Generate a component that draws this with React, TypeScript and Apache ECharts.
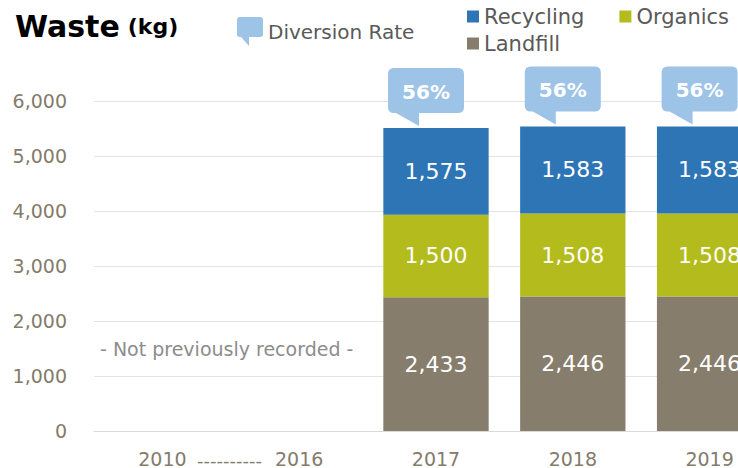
import React, { useEffect, useRef } from "react";
import * as echarts from "echarts";

const categories = ["2010", "2016", "2017", "2018", "2019"];
const landfill = [null, null, 2433, 2446, 2446];
const organics = [null, null, 1500, 1508, 1508];
const recycling = [null, null, 1575, 1583, 1583];
const diversionRate = [null, null, 56, 56, 56];
const yMin = 0;
const yMax = 6000;
const yInterval = 1000;

const FONT = "DejaVu Sans";
const C_RECYCLING = "#2e75b6";
const C_ORGANICS = "#b3bc1c";
const C_LANDFILL = "#877d6d";
const C_CALLOUT = "#9dc3e6";
const C_AXIS_TEXT = "#857b6b";
const C_LEGEND_TEXT = "#595959";

const calloutIcon =
  "path://M3,0 H23 Q26,0 26,3 V17 Q26,20 23,20 H12 V29 L4,20 H3 Q0,20 0,17 V3 Q0,0 3,0 Z";

export default function App() {
  const ref = useRef<HTMLDivElement>(null);

  useEffect(() => {
    if (!ref.current) return;
    const chart = echarts.init(ref.current, null, { renderer: "svg" });

    const calloutData = categories
      .map((_, i) => {
        if (diversionRate[i] == null) return null;
        const total =
          (landfill[i] as number) + (organics[i] as number) + (recycling[i] as number);
        return [i, total, diversionRate[i]];
      })
      .filter((d) => d !== null);

    const barLabel = {
      show: true,
      position: "inside",
      color: "#ffffff",
      fontFamily: FONT,
      fontSize: 22,
      formatter: (p: any) => (p.value == null ? "" : Number(p.value).toLocaleString("en-US")),
    };

    const option: any = {
      animation: false,
      title: {
        left: 10,
        top: 6,
        text: "{a|Waste}{s| }{b|(kg)}",
        textStyle: {
          rich: {
            a: { fontFamily: FONT, fontWeight: "bold", fontSize: 30, color: "#000" },
            s: { fontFamily: FONT, fontSize: 14, width: 8 },
            b: { fontFamily: FONT, fontWeight: "bold", fontSize: 22, color: "#000" },
          },
        },
      },
      legend: [
        {
          left: 237,
          top: 17,
          padding: 0,
          itemWidth: 26,
          itemHeight: 29,
          itemGap: 6,
          data: [{ name: "Diversion Rate", icon: calloutIcon }],
          textStyle: { fontFamily: FONT, fontSize: 20, color: C_LEGEND_TEXT },
        },
        {
          left: 467,
          top: 6,
          padding: 0,
          itemWidth: 12,
          itemHeight: 12,
          itemGap: 35,
          icon: "rect",
          data: ["Recycling", "Organics"],
          textStyle: { fontFamily: FONT, fontSize: 21, color: C_LEGEND_TEXT },
        },
        {
          left: 467,
          top: 33,
          padding: 0,
          itemWidth: 12,
          itemHeight: 12,
          icon: "rect",
          data: ["Landfill"],
          textStyle: { fontFamily: FONT, fontSize: 21, color: C_LEGEND_TEXT },
        },
      ],
      grid: { left: 94, right: 22, top: 101, bottom: 36, containLabel: false },
      xAxis: {
        type: "category",
        data: categories,
        axisTick: { show: false },
        axisLine: { show: true, lineStyle: { color: "#d9d9d9", width: 1 } },
        axisLabel: {
          margin: 18,
          fontFamily: FONT,
          fontSize: 19,
          color: C_AXIS_TEXT,
        },
      },
      yAxis: {
        type: "value",
        min: yMin,
        max: yMax,
        interval: yInterval,
        axisLine: { show: false },
        axisTick: { show: false },
        splitLine: { lineStyle: { color: "#e3e3e3", width: 1 } },
        axisLabel: {
          margin: 27,
          fontFamily: FONT,
          fontSize: 19,
          color: C_AXIS_TEXT,
          formatter: (v: number) => v.toLocaleString("en-US"),
        },
      },
      graphic: [
        {
          type: "text",
          left: 100,
          top: 339,
          style: {
            text: "- Not previously recorded -",
            fontFamily: FONT,
            fontSize: 19,
            fill: "#8c8c8c",
          },
        },
        {
          type: "text",
          left: 197,
          top: 451,
          style: {
            text: "----------",
            fontFamily: FONT,
            fontSize: 18,
            fill: C_AXIS_TEXT,
          },
        },
      ],
      series: [
        {
          name: "Landfill",
          type: "bar",
          stack: "waste",
          barWidth: "77%",
          data: landfill,
          itemStyle: { color: C_LANDFILL },
          label: barLabel,
        },
        {
          name: "Organics",
          type: "bar",
          stack: "waste",
          barWidth: "77%",
          data: organics,
          itemStyle: { color: C_ORGANICS },
          label: barLabel,
        },
        {
          name: "Recycling",
          type: "bar",
          stack: "waste",
          barWidth: "77%",
          data: recycling,
          itemStyle: { color: C_RECYCLING },
          label: barLabel,
        },
        {
          name: "Diversion Rate",
          type: "custom",
          z: 10,
          itemStyle: { color: C_CALLOUT },
          encode: { x: 0, y: 1 },
          data: calloutData,
          renderItem: (params: any, api: any) => {
            const idx = api.value(0);
            const total = api.value(1);
            const rate = api.value(2);
            const pt = api.coord([idx, total]);
            const cx = pt[0];
            const ty = pt[1];
            const L = -48, R = 28, T = -60, B = -15, r = 6;
            const tailL = L + 8, tailR = L + 31, tipY = B + 13;
            const d =
              `M${L + r},${T} H${R - r} Q${R},${T} ${R},${T + r} V${B - r} Q${R},${B} ${R - r},${B} ` +
              `H${tailR} V${tipY} L${tailL},${B} H${L + r} Q${L},${B} ${L},${B - r} V${T + r} Q${L},${T} ${L + r},${T} Z`;
            return {
              type: "group",
              x: cx,
              y: ty,
              children: [
                { type: "path", shape: { pathData: d }, style: { fill: C_CALLOUT } },
                {
                  type: "text",
                  x: (L + R) / 2,
                  y: (T + B) / 2 + 1,
                  style: {
                    text: rate + "%",
                    fill: "#ffffff",
                    fontFamily: FONT,
                    fontWeight: "bold",
                    fontSize: 20,
                    align: "center",
                    verticalAlign: "middle",
                  },
                },
              ],
            };
          },
        },
      ],
    };

    chart.setOption(option);
    return () => chart.dispose();
  }, []);

  return (
    <div
      style={{
        position: "fixed",
        left: 0,
        top: 0,
        width: 738,
        height: 468,
        overflow: "hidden",
        background: "#ffffff",
      }}
    >
      <div ref={ref} style={{ width: 800, height: 468 }} />
    </div>
  );
}
